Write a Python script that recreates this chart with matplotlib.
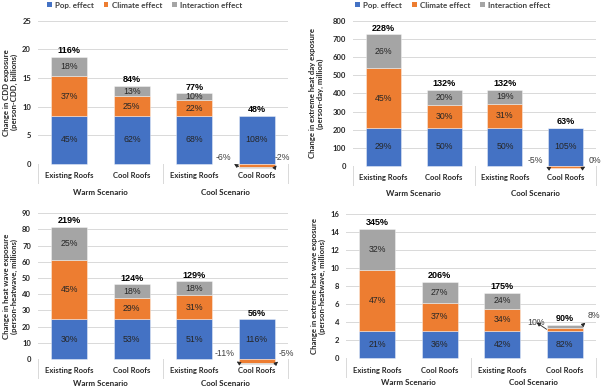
import matplotlib
matplotlib.use("Agg")
import matplotlib.pyplot as plt
from matplotlib.patches import Patch
from matplotlib.transforms import blended_transform_factory
import numpy as np

categories = ["Existing Roofs", "Cool Roofs", "Existing Roofs", "Cool Roofs"]
scenarios = ["Warm Scenario", "Cool Scenario"]
series_names = ["Pop. effect", "Climate effect", "Interaction effect"]
colors = ["#4472C4", "#ED7D31", "#A5A5A5"]

# Panel 1: CDD exposure (person-CDD, billions)
cdd_pop = [8.4, 8.4, 8.4, 8.4]
cdd_climate = [6.9, 3.4, 2.7, -0.47]
cdd_inter = [3.4, 1.8, 1.2, -0.16]
cdd_share_pop = ["45%", "62%", "68%", "108%"]
cdd_share_climate = ["37%", "25%", "22%", "-6%"]
cdd_share_inter = ["18%", "13%", "10%", "-2%"]
cdd_total = ["116%", "84%", "77%", "48%"]
cdd_ylabel = "Change in CDD exposure\n(person-CDD, billions)"
cdd_yticks = [0, 5, 10, 15, 20, 25]

# Panel 2: extreme heat day exposure (person-day, million)
ehd_pop = [210, 210, 210, 210]
ehd_climate = [327, 126, 131, -10]
ehd_inter = [188, 84, 80, 0]
ehd_share_pop = ["29%", "50%", "50%", "105%"]
ehd_share_climate = ["45%", "30%", "31%", "-5%"]
ehd_share_inter = ["26%", "20%", "19%", "0%"]
ehd_total = ["228%", "132%", "132%", "63%"]
ehd_ylabel = "Change in extreme heat day exposure\n(person-day, million)"
ehd_yticks = [0, 100, 200, 300, 400, 500, 600, 700, 800]

# Panel 3: heat wave exposure (person-heatwave, millions)
hw_pop = [24.4, 24.4, 24.4, 24.4]
hw_climate = [36.7, 13.4, 14.9, -2.3]
hw_inter = [20.4, 8.3, 8.6, -1.05]
hw_share_pop = ["30%", "53%", "51%", "116%"]
hw_share_climate = ["45%", "29%", "31%", "-11%"]
hw_share_inter = ["25%", "18%", "18%", "-5%"]
hw_total = ["219%", "124%", "129%", "56%"]
hw_ylabel = "Change in heat wave exposure\n(person-heatwave, millions)"
hw_yticks = [0, 10, 20, 30, 40, 50, 60, 70, 80, 90]

# Panel 4: extreme heat wave exposure (person-heatwave, millions)
ehw_pop = [3.03, 3.03, 3.03, 3.03]
ehw_climate = [6.75, 3.15, 2.45, 0.37]
ehw_inter = [4.6, 2.3, 1.75, 0.3]
ehw_share_pop = ["21%", "36%", "42%", "82%"]
ehw_share_climate = ["47%", "37%", "34%", "10%"]
ehw_share_inter = ["32%", "27%", "24%", "8%"]
ehw_total = ["345%", "206%", "175%", "90%"]
ehw_ylabel = "Change in extreme heat wave exposure\n(person-heatwave, millions)"
ehw_yticks = [0, 2, 4, 6, 8, 10, 12, 14, 16]

AXFONT = ["Lato", "DejaVu Sans"]
LBLFONT = ["Liberation Sans", "DejaVu Sans"]
TXT = "#262626"
GRID = "#D9D9D9"
W = 0.58

fig = plt.figure(figsize=(6.02, 3.9), dpi=100)


def draw(rect, pop, clim, inter, shares, totals, ylabel, yticks, ylab_x,
         out_left, out_right, scen_y, legend_x=None):
    ax = fig.add_axes(rect)
    x = np.arange(len(categories))
    layers = [np.array(pop, float), np.array(clim, float), np.array(inter, float)]
    pos_base = np.zeros(len(x))
    neg_base = np.zeros(len(x))
    seg = []
    for vals, col in zip(layers, colors):
        bottoms = np.where(vals >= 0, pos_base, neg_base)
        ax.bar(x, vals, W, bottom=bottoms, color=col, edgecolor=(1, 1, 1, 0.55),
               linewidth=0.5, zorder=3, clip_on=False)
        seg.append((bottoms, vals))
        pos_base = pos_base + np.where(vals >= 0, vals, 0)
        neg_base = neg_base + np.where(vals < 0, vals, 0)
    ymax = yticks[-1]
    ax.set_ylim(0, ymax)
    ax.set_xlim(-0.5, 3.5)
    ax.set_yticks(yticks)
    ax.set_yticklabels([str(t) for t in yticks], fontsize=5.5, fontweight="bold",
                       color=TXT, family=AXFONT)
    ax.tick_params(axis="y", length=0, pad=5)
    ax.tick_params(axis="x", length=0, pad=6)
    ax.set_xticks(x)
    ax.set_xticklabels(categories, fontsize=5.5, fontweight="bold", color=TXT,
                       family=AXFONT)
    ax.grid(axis="y", color=GRID, linewidth=0.7, zorder=0)
    ax.set_axisbelow(True)
    for s in ax.spines.values():
        s.set_visible(False)
    ax.set_ylabel(ylabel, fontsize=5.6, fontweight="bold", color=TXT,
                  family=AXFONT, linespacing=1.15)
    ax.yaxis.set_label_coords(ylab_x, 0.5)
    tr = blended_transform_factory(ax.transData, ax.transAxes)
    for sx in [-0.5, 1.5, 3.5]:
        ax.plot([sx, sx], [0, -0.13], color=GRID, lw=0.7, transform=tr, clip_on=False)
    for i, name in enumerate(scenarios):
        ax.text(0.5 + 2 * i, scen_y, name, transform=tr, ha="center", va="center",
                fontsize=5.8, fontweight="bold", color=TXT, family=AXFONT)
    # inside labels (first three bars)
    for li, (bottoms, vals) in enumerate(seg):
        for i in range(3):
            ax.text(x[i], bottoms[i] + vals[i] / 2, shares[li][i], ha="center",
                    va="center", fontsize=6.3, color=TXT, family=LBLFONT, zorder=5)
    # fourth bar: pop inside, the rest outside with arrows
    b0, v0 = seg[0]
    ax.text(x[3], b0[3] + v0[3] / 2, shares[0][3], ha="center", va="center",
            fontsize=6.3, color=TXT, family=LBLFONT, zorder=5)
    bc, vc = seg[1]
    bi, vi = seg[2]
    if vc[3] < 0:
        pl = (x[3] - W / 2, bc[3] + vc[3])
        pr = (x[3] + W / 2, neg_base[3])
    else:
        pl = (x[3] - W / 2, bc[3] + vc[3] / 2)
        pr = (x[3] + W / 2, bi[3] + vi[3])
    for txt, p, tpos in [(shares[1][3], pl, out_left), (shares[2][3], pr, out_right)]:
        ax.annotate(txt, xy=p, xytext=(tpos[0], tpos[1] * ymax), ha="center",
                    va="center", fontsize=6.3, color="#404040", family=LBLFONT,
                    annotation_clip=False,
                    arrowprops=dict(arrowstyle="<|-", color="#262626", lw=0.6,
                                    mutation_scale=5.5, shrinkA=0.5, shrinkB=0))
    # totals
    for i in range(4):
        ax.annotate(totals[i], xy=(x[i], pos_base[i]), xytext=(0, 1.2),
                    textcoords="offset points", ha="center", va="bottom",
                    fontsize=6.5, fontweight="bold", color="black", family=LBLFONT)
    if legend_x is not None:
        handles = [Patch(facecolor=c, edgecolor="none") for c in colors]
        ax.legend(handles, series_names, loc="center",
                  bbox_to_anchor=(legend_x, 0.987), bbox_transform=fig.transFigure,
                  ncol=3, frameon=False, handlelength=0.6, handleheight=0.6,
                  columnspacing=1.2, handletextpad=0.4,
                  prop=dict(family=AXFONT, weight="bold", size=5.8),
                  labelcolor="#404040")
    return ax


draw([38 / 602, 1 - 164 / 390, 250 / 602, 143.3 / 390],
     cdd_pop, cdd_climate, cdd_inter,
     [cdd_share_pop, cdd_share_climate, cdd_share_inter], cdd_total,
     cdd_ylabel, cdd_yticks, -0.08, (2.46, 0.045), (3.41, 0.045), -0.2,
     legend_x=0.24)

draw([353 / 602, 1 - 166 / 390, 243 / 602, 145.3 / 390],
     ehd_pop, ehd_climate, ehd_inter,
     [ehd_share_pop, ehd_share_climate, ehd_share_inter], ehd_total,
     ehd_ylabel, ehd_yticks, -0.119, (2.5, 0.035), (3.48, 0.035), -0.19,
     legend_x=0.752)

draw([38 / 602, 1 - 359 / 390, 250 / 602, 145.7 / 390],
     hw_pop, hw_climate, hw_inter,
     [hw_share_pop, hw_share_climate, hw_share_inter], hw_total,
     hw_ylabel, hw_yticks, -0.08, (2.49, 0.035), (3.48, 0.035), -0.17)

draw([346 / 602, 1 - 358.3 / 390, 250 / 602, 144.3 / 390],
     ehw_pop, ehw_climate, ehw_inter,
     [ehw_share_pop, ehw_share_climate, ehw_share_inter], ehw_total,
     ehw_ylabel, ehw_yticks, -0.08, (2.54, 0.25), (3.47, 0.30), -0.17)

fig.savefig("out.png", dpi=100)
